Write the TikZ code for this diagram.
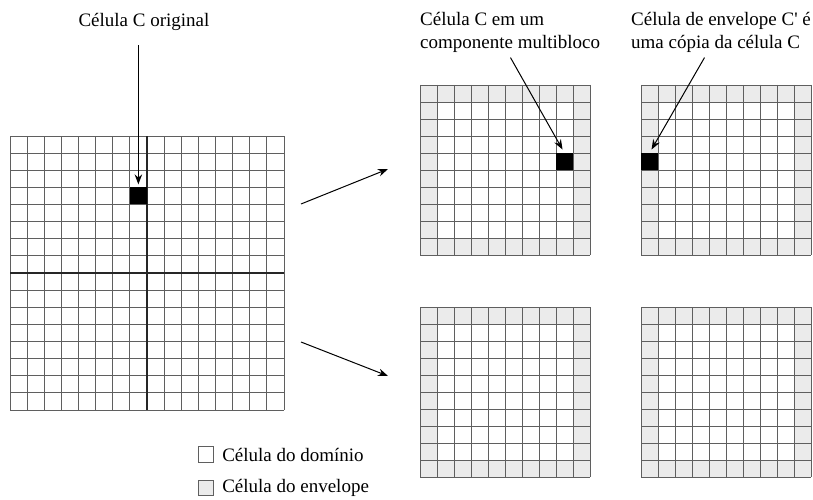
\documentclass[tikz,border=0pt]{standalone}
\usepackage{fontspec}
\setmainfont{Liberation Serif}[Ligatures=TeXOff]
\usetikzlibrary{arrows.meta, positioning}
\definecolor{envGray}{RGB}{235,235,235}
\definecolor{lineGray}{RGB}{95,95,95}

\begin{document}
\begin{tikzpicture}[x=1pt, y=-1pt, font=\fontsize{19}{23}\selectfont,
    gridline/.style={draw=lineGray, line width=0.8pt},
    divider/.style={draw=black!85, line width=1.6pt},
    blackcell/.style={fill=black, minimum size=17pt, inner sep=0pt, outer sep=0pt, anchor=north west},
    legendbox/.style={draw=lineGray, line width=0.6pt, minimum size=15.5pt, inner sep=0pt},
    label/.style={inner sep=0pt, align=left},
    arr/.style={-{Stealth[length=10pt, width=7.5pt]}, line width=1pt}]
    \useasboundingbox (0,0) rectangle (813,500);

    % Original grid (16 x 16)
    \foreach \i in {0,...,16} {
        \draw[gridline] (10+\i*17.125,136) -- (10+\i*17.125,410);
        \draw[gridline] (10,136+\i*17.125) -- (284,136+\i*17.125);
    }
    \draw[divider] (147,136) -- (147,410);
    \draw[divider] (10,273) -- (284,273);
    \node[blackcell] (cellC) at (129.875,187.375) {};

    % Multiblock components (10 x 10, envelope cells shaded)
    \foreach \bx/\by in {420/85, 641/85, 420/307, 641/307} {
        \fill[envGray] (\bx,\by) rectangle ++(170,170);
        \fill[white] (\bx+17,\by+17) rectangle ++(136,136);
        \foreach \k in {0,...,10} {
            \draw[gridline] (\bx+\k*17,\by) -- ++(0,170);
            \draw[gridline] (\bx,\by+\k*17) -- ++(170,0);
        }
    }
    \node[blackcell] (cellB) at (556,153) {};
    \node[blackcell] (cellE) at (641,153) {};

    % Labels
    \node[label, anchor=base] (lblC) at (144,27) {Célula C original};
    \node[label, anchor=base west] (lblB) at (420,49) {Célula C em um\\componente multibloco};
    \node[label, anchor=base west] (lblE) at (631,49) {Célula de envelope C' é\\uma cópia da célula C};

    % Pointers
    \draw[arr, shorten <=14pt, shorten >=3pt] (lblC.south -| cellC.north) -- (cellC.north);
    \draw[arr, shorten <=5pt, shorten >=4pt] ([xshift=88pt]lblB.south west) -- (cellB.north);
    \draw[arr, shorten <=5pt, shorten >=4pt] ([xshift=76pt]lblE.south west) -- (cellE.north);

    % Split arrows
    \coordinate (splitA) at (301,204);
    \coordinate (splitB) at (388,169);
    \coordinate (splitC) at (301,342);
    \coordinate (splitD) at (388,376);
    \draw[arr] (splitA) -- (splitB);
    \draw[arr] (splitC) -- (splitD);

    % Legend
    \node[legendbox, fill=white] (boxDom) at (206,454.5) {};
    \node[legendbox, fill=envGray] (boxEnv) at (206,488) {};
    \node[right=8pt of boxDom, inner sep=0pt] (txtDom) {Célula do domínio};
    \node[right=8pt of boxEnv, inner sep=0pt] (txtEnv) {Célula do envelope};
\end{tikzpicture}
\end{document}
